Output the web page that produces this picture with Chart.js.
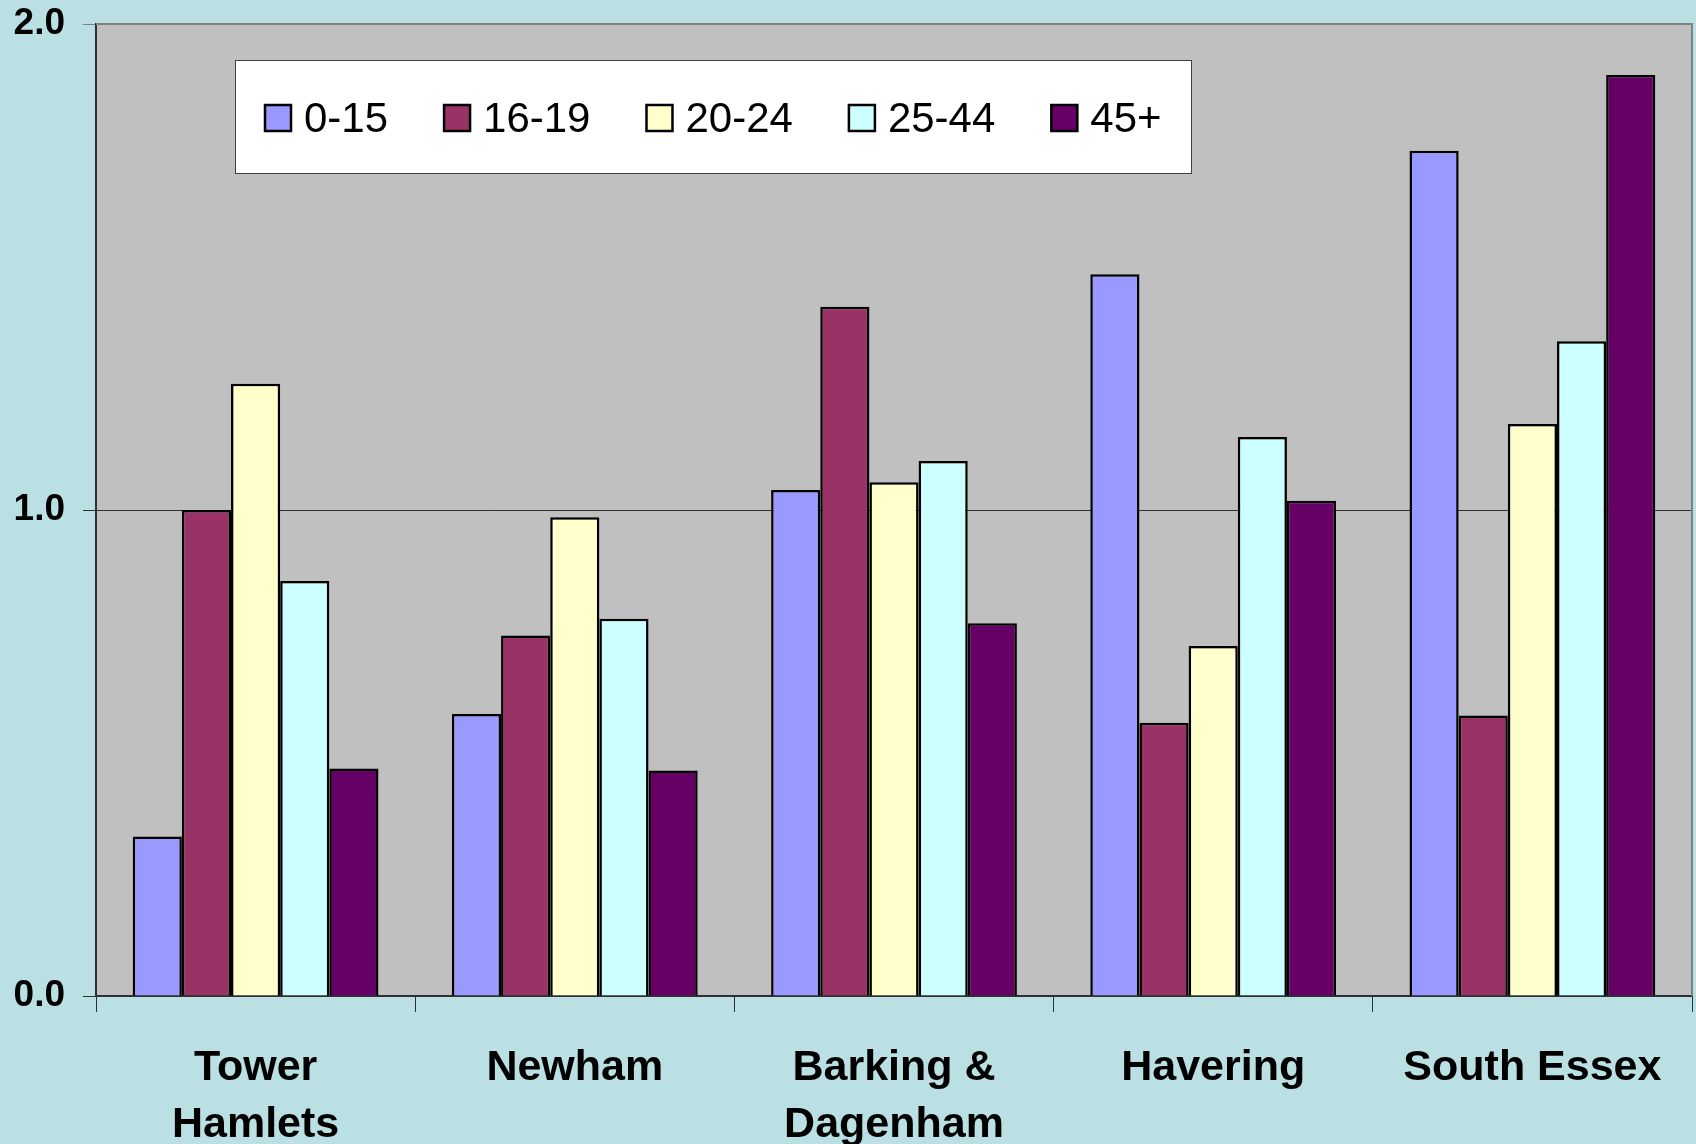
<!DOCTYPE html>
<html>
<head>
<meta charset="utf-8">
<script src="https://cdn.jsdelivr.net/npm/chart.js@4/dist/chart.umd.min.js"></script>
<style>
  html, body { margin: 0; padding: 0; background: #BAE0E3; }
  #wrap { width: 1696px; height: 1144px; }
</style>
</head>
<body>
<div id="wrap"><canvas id="c" width="1696" height="1144"></canvas></div>
<script>
const categories = [['Tower', 'Hamlets'], 'Newham', ['Barking &', 'Dagenham'], 'Havering', 'South Essex'];
const seriesNames = ['0-15', '16-19', '20-24', '25-44', '45+'];
const age0to15  = [0.328, 0.580, 1.041, 1.485, 1.739];
const age16to19 = [1.000, 0.742, 1.418, 0.562, 0.577];
const age20to24 = [1.260, 0.985, 1.057, 0.720, 1.177];
const age25to44 = [0.854, 0.776, 1.101, 1.150, 1.347];
const age45plus = [0.468, 0.464, 0.767, 1.019, 1.895];
const yTicks = [0, 1, 2];
const colors = ['#9999FF', '#993366', '#FFFFCC', '#CCFFFF', '#660066'];

const seriesValues = [age0to15, age16to19, age20to24, age25to44, age45plus];

const FONT = '"Liberation Sans", Arial, sans-serif';

const bgPlugin = {
  id: 'plotBg',
  beforeDraw(chart) {
    const a = chart.chartArea, ctx = chart.ctx;
    ctx.save();
    ctx.fillStyle = '#C0C0C0';
    ctx.fillRect(a.left, a.top, a.right - a.left, a.bottom - a.top);
    ctx.restore();
  },
  afterDraw(chart) {
    const a = chart.chartArea, ctx = chart.ctx;
    ctx.save();
    ctx.strokeStyle = '#808080';
    ctx.lineWidth = 2;
    ctx.beginPath();
    ctx.moveTo(a.left, a.top);
    ctx.lineTo(a.right, a.top);
    ctx.lineTo(a.right, a.bottom);
    ctx.stroke();
    const lx = 235, ly = 60, lw = 956, lh = 113;
    ctx.fillStyle = '#FFFFFF';
    ctx.fillRect(lx, ly, lw, lh);
    ctx.strokeStyle = '#404040';
    ctx.lineWidth = 1;
    ctx.strokeRect(lx + 0.5, ly + 0.5, lw, lh);
    ctx.font = '42px ' + FONT;
    ctx.textBaseline = 'middle';
    ctx.textAlign = 'left';
    let x = 265;
    const cy = 118;
    chart.data.datasets.forEach(ds => {
      ctx.fillStyle = ds.backgroundColor;
      ctx.fillRect(x, cy - 13, 26, 26);
      ctx.strokeStyle = '#000';
      ctx.lineWidth = 2.5;
      ctx.strokeRect(x, cy - 13, 26, 26);
      ctx.fillStyle = '#000';
      ctx.fillText(ds.label, x + 39, cy + 2);
      x += 39 + ctx.measureText(ds.label).width + 56;
    });
    ctx.restore();
  }
};

new Chart(document.getElementById('c'), {
  type: 'bar',
  data: {
    labels: categories,
    datasets: seriesNames.map((n, i) => ({
      label: n,
      data: seriesValues[i],
      backgroundColor: colors[i],
      borderColor: '#000000',
      borderWidth: 2.5,
      categoryPercentage: 0.77,
      barPercentage: 1.0
    }))
  },
  options: {
    responsive: false,
    animation: false,
    layout: { padding: { top: 24, right: 4, left: 0, bottom: 0 } },
    plugins: { legend: { display: false }, tooltip: { enabled: false } },
    scales: {
      x: {
        offset: true,
        grid: {
          offset: true,
          drawOnChartArea: false,
          drawTicks: true,
          tickLength: 16,
          color: '#303030',
          lineWidth: 1
        },
        border: { display: true, color: '#303030', width: 2 },
        ticks: {
          color: '#000',
          font: { family: FONT, size: 43, weight: 'bold', lineHeight: 1.32 },
          padding: 28,
          maxRotation: 0,
          autoSkip: false
        },
        afterFit(scale) { scale.height = 148; scale.paddingLeft = 0; scale.paddingRight = 0; }
      },
      y: {
        min: 0,
        max: 2,
        afterBuildTicks(scale) { scale.ticks = yTicks.map(v => ({ value: v })); },
        grid: {
          drawTicks: true,
          tickLength: 13,
          color: (ctx) => (ctx.tick && ctx.tick.value === 2) ? '#808080' : '#303030',
          lineWidth: 1
        },
        border: { display: true, color: '#303030', width: 2 },
        ticks: {
          color: '#000',
          font: { family: FONT, size: 37, weight: 'bold' },
          padding: 18,
          callback: (v) => Number(v).toFixed(1)
        },
        afterFit(scale) { scale.width = 96; scale.paddingTop = 0; scale.paddingBottom = 0; }
      }
    }
  },
  plugins: [bgPlugin]
});
</script>
</body>
</html>
